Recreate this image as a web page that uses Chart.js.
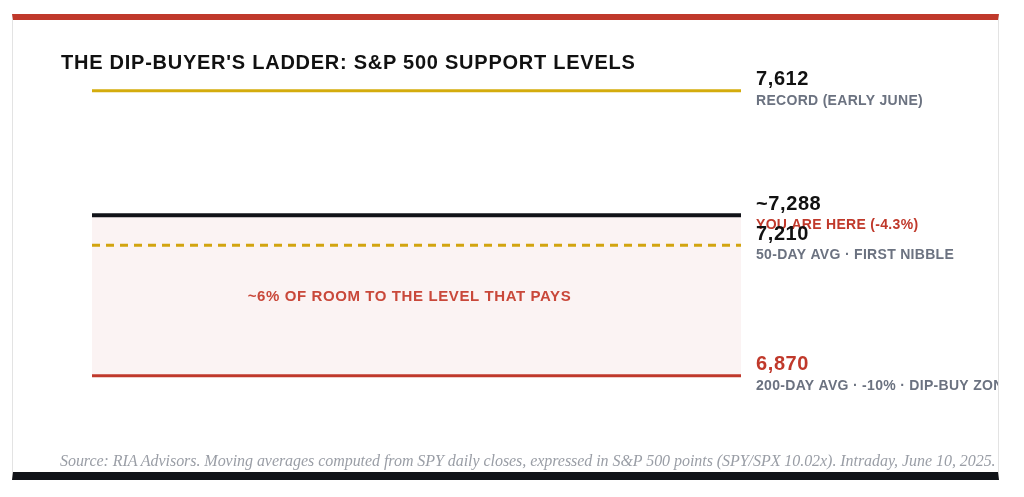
<!DOCTYPE html>
<html>
<head>
<meta charset="utf-8">
<script src="https://cdn.jsdelivr.net/npm/chart.js@4"></script>
<style>
  html, body { margin: 0; padding: 0; background: #fff; }
  #card {
    position: absolute; left: 12px; top: 14px; width: 987px; height: 466px;
    border-left: 1px solid #e3e3e3; border-right: 1px solid #e3e3e3;
    border-top: 6px solid #c0392b; border-bottom: 8px solid #111318;
    box-sizing: border-box; overflow: hidden; background: #fff;
  }
  #title {
    position: absolute; left: 48px; top: 31px; margin: 0;
    font: bold 20px "Liberation Sans", Arial, sans-serif; color: #111; letter-spacing: 0.75px;
  }
  #source {
    position: absolute; left: 47px; top: 432px; white-space: nowrap;
    font: italic 16px "Liberation Serif", Georgia, serif; color: #9a9ea6; letter-spacing: -0.05px;
  }
  #chart { position: absolute; left: 0; top: 0; }
</style>
</head>
<body>
<div id="card">
  <canvas id="chart" width="987" height="452"></canvas>
  <h1 id="title">THE DIP-BUYER'S LADDER: S&amp;P 500 SUPPORT LEVELS</h1>
  <div id="source">Source: RIA Advisors. Moving averages computed from SPY daily closes, expressed in S&amp;P 500 points (SPY/SPX 10.02x). Intraday, June 10, 2025.</div>
</div>
<script>
// Levels
const levelNames = ['Record', 'Current', '50-day', '200-day'];
const levelValues = [7612, 7288, 7210, 6870];
const levelTexts = ['7,612', '~7,288', '7,210', '6,870'];
const levelNotes = ['RECORD (EARLY JUNE)', 'YOU ARE HERE (-4.3%)', '50-DAY AVG · FIRST NIBBLE', '200-DAY AVG · -10% · DIP-BUY ZONE'];
const levelColors = ['#d4ac0d', '#111318', '#d4ac0d', '#c0392b'];
const zoneText = '~6% OF ROOM TO THE LEVEL THAT PAYS';

const datasets = levelValues.map((v, i) => ({
    label: levelNames[i],
    data: [{ x: 0, y: v }, { x: 1, y: v }],
    borderColor: levelColors[i],
    borderWidth: i === 1 ? 4 : 3,
    borderDash: i === 2 ? [8, 6] : [],
    pointRadius: 0,
    fill: i === 1 ? 3 : false,
    backgroundColor: 'rgba(192, 57, 43, 0.06)'
}));

const labelPlugin = {
    id: 'levelLabels',
    afterDatasetsDraw(chart) {
        const { ctx, scales: { x, y } } = chart;
        ctx.save();
        ctx.textBaseline = 'middle';
        levelValues.forEach((v, i) => {
            const py = y.getPixelForValue(v);
            const px = x.right + 15;
            ctx.font = 'bold 20px "Liberation Sans", Arial, sans-serif';
            ctx.letterSpacing = '0.6px';
            ctx.fillStyle = i === 3 ? '#c0392b' : '#111';
            ctx.fillText(levelTexts[i], px, py - 11);
            ctx.font = 'bold 14px "Liberation Sans", Arial, sans-serif';
            ctx.letterSpacing = '0.3px';
            ctx.fillStyle = i === 1 ? '#c0392b' : '#6b7280';
            ctx.fillText(levelNotes[i], px, py + 10);
        });
        ctx.textAlign = 'center';
        ctx.font = 'bold 15px "Liberation Sans", Arial, sans-serif';
        ctx.letterSpacing = '0.6px';
        ctx.fillStyle = '#c9483a';
        ctx.fillText(zoneText, (x.left + x.right) / 2 - 7, y.getPixelForValue((levelValues[1] + levelValues[3]) / 2) + 1);
        ctx.restore();
    }
};

new Chart(document.getElementById('chart'), {
    type: 'line',
    data: { datasets },
    options: {
        responsive: false,
        animation: false,
        layout: { padding: { left: 79, right: 259, top: 37, bottom: 31 } },
        plugins: { legend: { display: false }, tooltip: { enabled: false } },
        scales: {
            x: { type: 'linear', min: 0, max: 1, display: false },
            y: { min: 6700, max: 7700, display: false }
        }
    },
    plugins: [labelPlugin]
});
</script>
</body>
</html>
